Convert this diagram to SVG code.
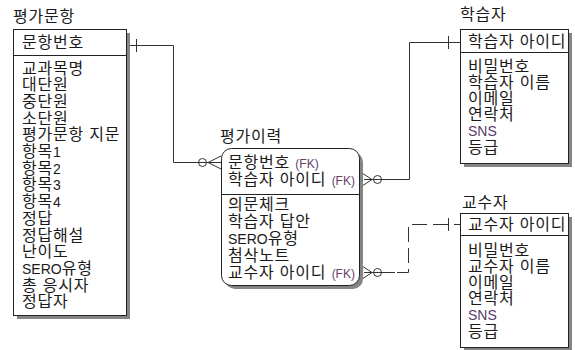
<svg xmlns="http://www.w3.org/2000/svg" width="575" height="350" viewBox="0 0 575 350">
<style>
text{font-family:"Liberation Sans","Noto Sans CJK KR",sans-serif;font-size:16px;fill:#1a1a1a;letter-spacing:0.8px}
.lat{letter-spacing:0;font-size:14px}
.fk{font-size:12px;fill:#6a3d6a;letter-spacing:0}
.sns{fill:#5a3a6a;font-size:14px;letter-spacing:0}
.box{fill:#fff;stroke:#222;stroke-width:1}
.shadow{fill:#858585}
.div{stroke:#222;stroke-width:1}
.conn{fill:none;stroke:#333;stroke-width:1}
.dash{stroke-dasharray:15 6}
</style>
<rect width="575" height="350" fill="#fff"/>

<g id="connectors">
  <path class="conn" d="M126.5,45.5 H173.5 V162.5 H221"/>
  <line class="conn" x1="136.5" y1="39" x2="136.5" y2="52"/>
  <circle class="conn" cx="202.5" cy="162.5" r="4" fill="#fff"/>
  <path class="conn" d="M221,156 L208,162.5 L221,169"/>
  <path class="conn" d="M364,179.5 H409.5 V42.5 H460"/>
  <line class="conn" x1="448.5" y1="36" x2="448.5" y2="49"/>
  <circle class="conn" cx="377.5" cy="179.5" r="4" fill="#fff"/>
  <path class="conn" d="M362,173 L372,179.5 L362,186"/>
  <path class="conn" d="M364,272.5 H395"/>
  <path class="conn dash" d="M395,272.5 H408.5 V224.5 H460" stroke-dashoffset="-2"/>
  <line class="conn" x1="448.5" y1="218" x2="448.5" y2="231"/>
  <circle class="conn" cx="377.5" cy="272.5" r="4" fill="#fff"/>
  <path class="conn" d="M362,266 L372,272.5 L362,279"/>
</g>

<g id="evaluation-item">
  <text x="13" y="22">평가문항</text>
  <rect class="shadow" x="17" y="33" width="113" height="286"/>
  <rect class="box" x="13.5" y="29.5" width="113" height="286"/>
  <line class="div" x1="13.5" y1="55.5" x2="126.5" y2="55.5"/>
  <text x="22" y="47.5">문항번호</text>
  <text x="22" y="73.5">교과목명</text>
  <text x="22" y="90.2">대단원</text>
  <text x="22" y="106.9">중단원</text>
  <text x="22" y="123.6">소단원</text>
  <text x="22" y="140.3">평가문항 지문</text>
  <text x="22" y="157">항목<tspan class="lat">1</tspan></text>
  <text x="22" y="173.7">항목<tspan class="lat">2</tspan></text>
  <text x="22" y="190.4">항목<tspan class="lat">3</tspan></text>
  <text x="22" y="207.1">항목<tspan class="lat">4</tspan></text>
  <text x="22" y="223.8">정답</text>
  <text x="22" y="240.5">정답해설</text>
  <text x="22" y="257.2">난이도</text>
  <text x="22" y="273.9"><tspan class="lat">SERO</tspan>유형</text>
  <text x="22" y="290.6">총 응시자</text>
  <text x="22" y="307.3">정답자</text>
</g>

<g id="evaluation-history">
  <text x="220" y="142">평가이력</text>
  <rect class="shadow" x="225" y="152" width="138" height="137" rx="10"/>
  <rect class="box" x="221.5" y="148.5" width="138" height="137" rx="10"/>
  <line class="div" x1="221.5" y1="194.5" x2="359.5" y2="194.5"/>
  <text x="228" y="167.5">문항번호 <tspan class="fk">(FK)</tspan></text>
  <text x="228" y="184.5">학습자 아이디 <tspan class="fk">(FK)</tspan></text>
  <text x="228" y="209.5">의문체크</text>
  <text x="228" y="226.7">학습자 답안</text>
  <text x="228" y="243.9"><tspan class="lat">SERO</tspan>유형</text>
  <text x="228" y="261.1">첨삭노트</text>
  <text x="228" y="278.3">교수자 아이디 <tspan class="fk">(FK)</tspan></text>
</g>

<g id="learner">
  <text x="460" y="20">학습자</text>
  <rect class="shadow" x="464" y="33" width="108" height="134"/>
  <rect class="box" x="460.5" y="29.5" width="108" height="134"/>
  <line class="div" x1="460.5" y1="52.5" x2="568.5" y2="52.5"/>
  <text x="468" y="46.5">학습자 아이디</text>
  <text x="468" y="71.5">비밀번호</text>
  <text x="468" y="87.7">학습자 이름</text>
  <text x="468" y="103.9">이메일</text>
  <text x="468" y="120.1">연락처</text>
  <text class="sns" x="468" y="136.3">SNS</text>
  <text x="468" y="152.5">등급</text>
</g>

<g id="professor">
  <text x="462" y="208">교수자</text>
  <rect class="shadow" x="464" y="217" width="108" height="134"/>
  <rect class="box" x="460.5" y="213.5" width="108" height="134"/>
  <line class="div" x1="460.5" y1="235.5" x2="568.5" y2="235.5"/>
  <text x="468" y="229.5">교수자 아이디</text>
  <text x="468" y="255.5">비밀번호</text>
  <text x="468" y="271.7">교수자 이름</text>
  <text x="468" y="287.9">이메일</text>
  <text x="468" y="304.1">연락처</text>
  <text class="sns" x="468" y="320.3">SNS</text>
  <text x="468" y="336.5">등급</text>
</g>
</svg>
